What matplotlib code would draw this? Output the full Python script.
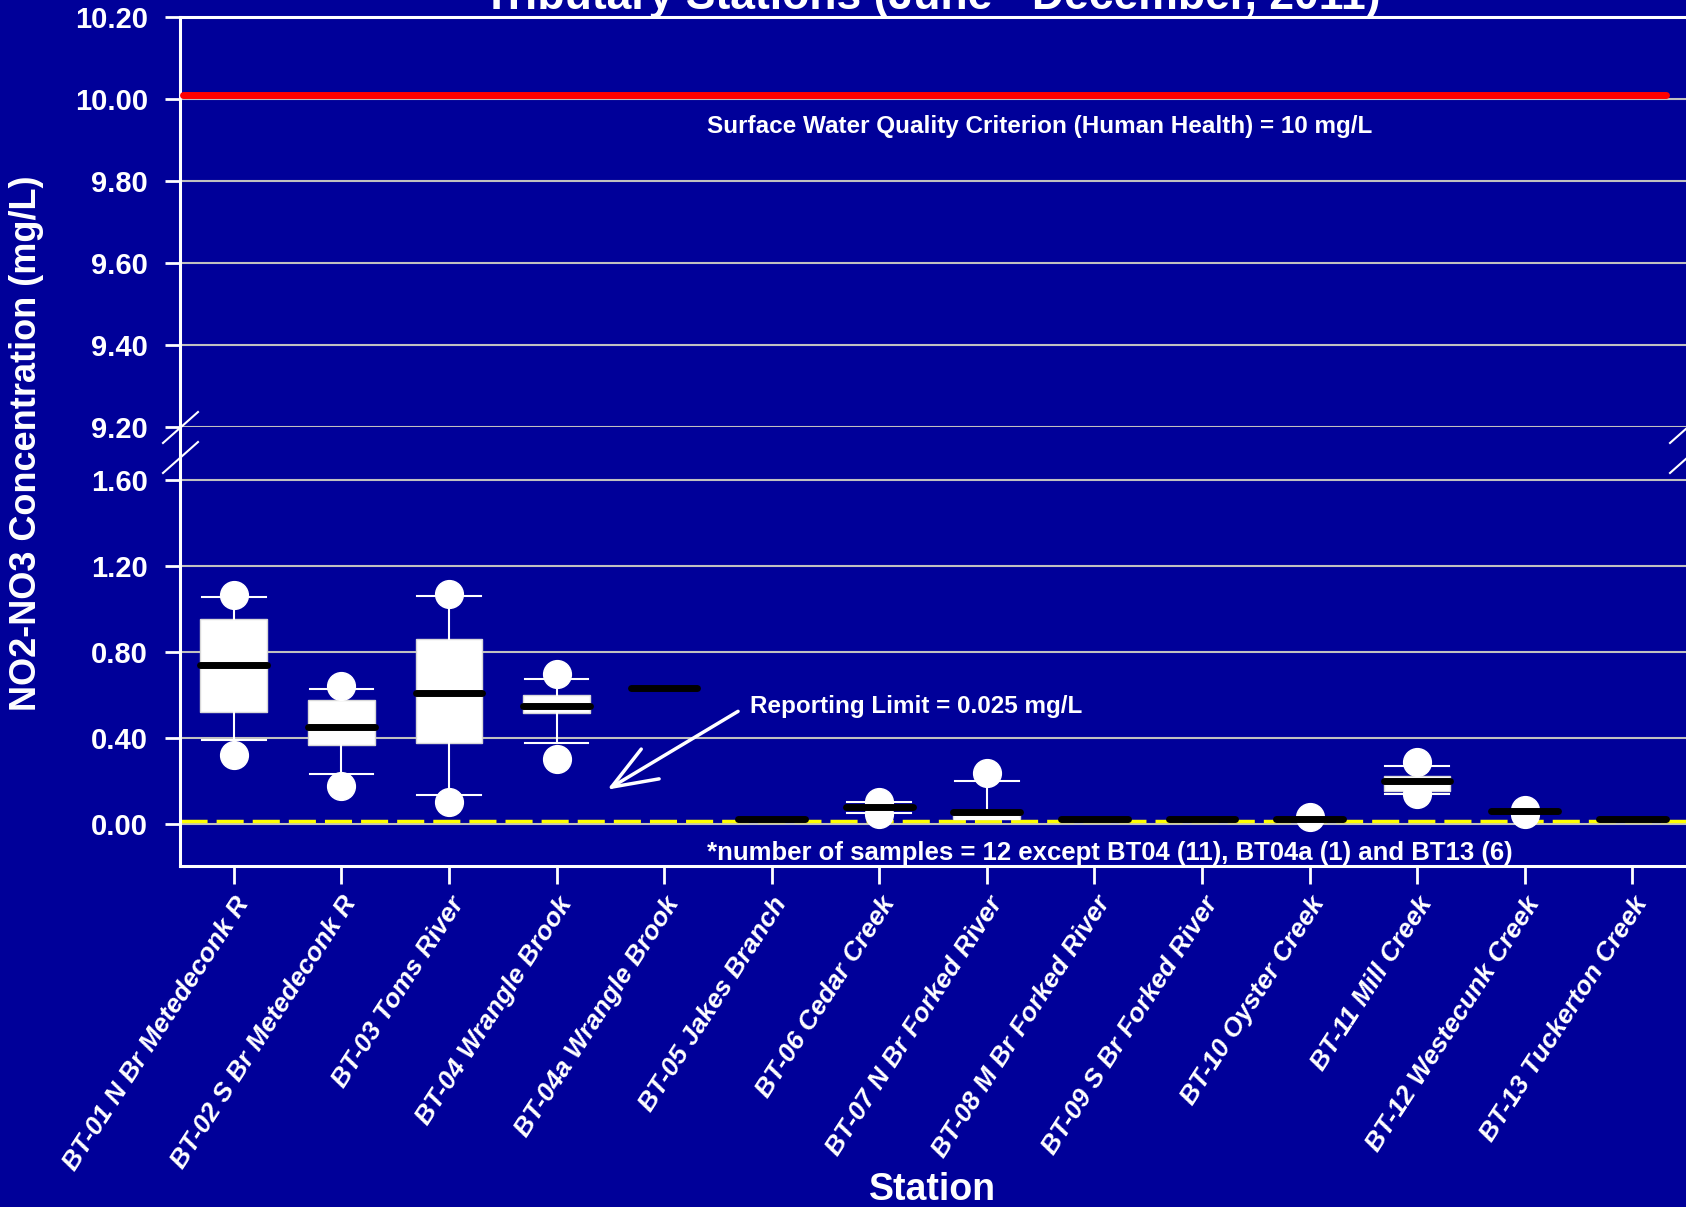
import matplotlib.pyplot as plt
from matplotlib.lines import Line2D

plt.rcParams['font.family'] = ['Liberation Sans', 'DejaVu Sans']

# station names (x axis)
stations = ['BT-01 N Br Metedeconk R', 'BT-02 S Br Metedeconk R', 'BT-03 Toms River',
            'BT-04 Wrangle Brook', 'BT-04a Wrangle Brook', 'BT-05 Jakes Branch',
            'BT-06 Cedar Creek', 'BT-07 N Br Forked River', 'BT-08 M Br Forked River',
            'BT-09 S Br Forked River', 'BT-10 Oyster Creek', 'BT-11 Mill Creek',
            'BT-12 Westecunk Creek', 'BT-13 Tuckerton Creek']

# box plot statistics (mg/L)
medians = [0.738, 0.449, 0.607, 0.546, 0.633, 0.025, 0.080, 0.055, 0.025, 0.025, 0.025, 0.200, 0.060, 0.025]
q1 = [0.520, 0.367, 0.375, 0.514, 0.633, 0.025, 0.068, 0.025, 0.025, 0.025, 0.025, 0.155, 0.058, 0.025]
q3 = [0.952, 0.575, 0.861, 0.598, 0.633, 0.025, 0.090, 0.065, 0.025, 0.025, 0.025, 0.225, 0.062, 0.025]
whis_lo = [0.390, 0.231, 0.137, 0.375, 0.633, 0.025, 0.052, 0.025, 0.025, 0.025, 0.025, 0.140, 0.058, 0.025]
whis_hi = [1.054, 0.629, 1.061, 0.674, 0.633, 0.025, 0.102, 0.201, 0.025, 0.025, 0.025, 0.270, 0.062, 0.025]
outliers = [[1.064, 0.321], [0.641, 0.177], [1.070, 0.100], [0.698, 0.301], [], [],
            [0.102, 0.046], [0.237], [], [], [0.034], [0.288, 0.139], [0.065, 0.045], []]

criterion = 10.01      # surface water quality criterion line
report_limit = 0.015   # reporting limit line as drawn

bg = '#000099'
W, H = 1686, 1207

fig = plt.figure(figsize=(W / 100, H / 100), dpi=100, facecolor=bg)


def fx(px):
    return px / W


def fy(py):
    return 1 - py / H


ax1 = fig.add_axes([fx(180), fy(427), fx(1686) - fx(180), fy(17) - fy(427)], facecolor=bg)
ax2 = fig.add_axes([fx(180), fy(866), fx(1686) - fx(180), fy(427) - fy(866)], facecolor=bg)

for ax in (ax1, ax2):
    ax.set_xlim(-0.5, 13.5)
    ax.set_axisbelow(True)
    ax.grid(axis='y', color='#c0c0c0', linewidth=1.5)
    ax.tick_params(axis='y', colors='white', labelsize=21, width=2, length=11, pad=12)
    for s in ax.spines.values():
        s.set_color('white')
        s.set_linewidth(2.2)
    ax.spines['right'].set_visible(False)

# upper panel (9.2 - 10.2)
ax1.set_ylim(9.2, 10.2)
ax1.set_yticks([9.2, 9.4, 9.6, 9.8, 10.0, 10.2])
ax1.set_yticklabels(['%.2f' % v for v in [9.2, 9.4, 9.6, 9.8, 10.0, 10.2]])
ax1.spines['bottom'].set_visible(False)
ax1.tick_params(axis='x', bottom=False, labelbottom=False)
ax1.hlines(criterion, -0.47, 13.31, color='red', linewidth=5, capstyle='round', zorder=3)
ax1.text(4.40, 9.933, 'Surface Water Quality Criterion (Human Health) = 10 mg/L',
         color='white', fontsize=17.5, fontweight='bold', ha='left', va='center')

# lower panel (box plots)
ax2.set_ylim(-0.195, 1.844)
ax2.set_yticks([0.0, 0.4, 0.8, 1.2, 1.6])
ax2.set_yticklabels(['%.2f' % v for v in [0.0, 0.4, 0.8, 1.2, 1.6]])
ax2.spines['top'].set_visible(False)

stats = []
for i in range(len(stations)):
    stats.append(dict(med=medians[i], q1=q1[i], q3=q3[i], whislo=whis_lo[i],
                      whishi=whis_hi[i], fliers=outliers[i]))

ax2.axhline(report_limit, color='yellow', linewidth=2.5, linestyle=(0, (7.8, 2.6)), zorder=2)

ax2.bxp(stats, positions=range(len(stations)), widths=0.62, capwidths=0.59,
        patch_artist=True, showfliers=True, zorder=3,
        boxprops=dict(facecolor='white', edgecolor='#d8d8d8', linewidth=1),
        whiskerprops=dict(color='white', linewidth=1.5),
        capprops=dict(color='white', linewidth=1.5),
        medianprops=dict(color='black', linewidth=5, solid_capstyle='round'),
        flierprops=dict(marker='o', markerfacecolor='white', markeredgecolor='white',
                        markersize=20))

ax2.set_xticks(range(len(stations)))
ax2.set_xticklabels(stations, rotation=57, ha='right', va='top', rotation_mode='anchor',
                    fontsize=19, fontweight='bold', fontstyle='italic', color='white')
ax2.tick_params(axis='x', colors='white', width=2, length=13, pad=6)

for ax in (ax1, ax2):
    for lab in ax.get_yticklabels():
        lab.set_fontweight('bold')

ax2.annotate('', xy=(3.45, 0.153), xytext=(4.71, 0.530),
             arrowprops=dict(arrowstyle='->,head_length=1.3,head_width=0.5',
                             color='white', lw=2.5, mutation_scale=25))
ax2.text(4.80, 0.548, 'Reporting Limit = 0.025 mg/L', color='white', fontsize=17.5,
         fontweight='bold', ha='left', va='center')
ax2.text(4.40, -0.135, '*number of samples = 12 except BT04 (11), BT04a (1) and BT13 (6)',
         color='white', fontsize=18.5, fontweight='bold', ha='left', va='center')

# axis break marks
for y0 in (443, 473):
    for x0 in (163, 1670):
        fig.add_artist(Line2D([fx(x0), fx(x0 + 35)], [fy(y0), fy(y0 - 31)],
                              color='white', linewidth=1.5, transform=fig.transFigure))

fig.text(fx(932), fy(9.5), 'Tributary Stations (June - December, 2011)', color='white',
         fontsize=32, fontweight='bold', ha='center', va='baseline')
fig.text(fx(27), fy(443), 'NO2-NO3 Concentration (mg/L)', color='white', fontsize=26,
         fontweight='bold', rotation=90, ha='center', va='center')
fig.text(fx(933), fy(1190), 'Station', color='white', fontsize=27, fontweight='bold',
         ha='center', va='center')

fig.savefig('out.png', dpi=100, facecolor=bg)
